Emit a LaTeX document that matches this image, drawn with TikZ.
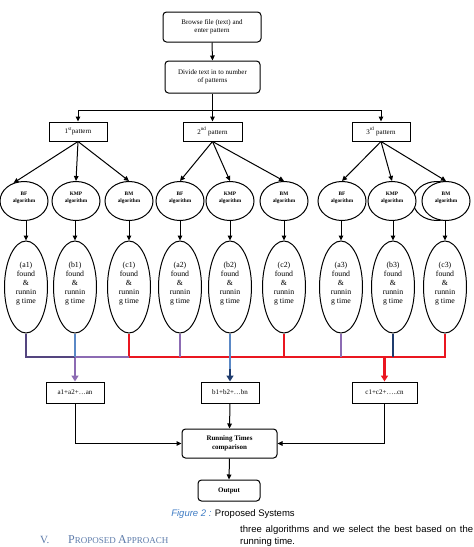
\documentclass[tikz,border=0pt]{standalone}
\usepackage{fontspec}
\setmainfont{Liberation Serif}
\newfontfamily\capfont{Liberation Sans}
\usetikzlibrary{arrows.meta,shapes.geometric}
\definecolor{dpurple}{HTML}{54457F}
\definecolor{lpurple}{HTML}{8C6BB3}
\definecolor{lblue}{HTML}{5A88C6}
\definecolor{dblue}{HTML}{1F3C6E}
\definecolor{bred}{HTML}{EA1620}
\definecolor{figblue}{HTML}{3F7CC4}
\definecolor{headblue}{HTML}{5D7BAA}
\begin{document}
\begin{tikzpicture}[x=1pt,y=-1pt,
  rbox/.style={draw,rounded corners=3.5pt,line width=1pt,align=center,inner sep=1pt,font=\fontsize{7}{8.5}\selectfont},
  sbox/.style={draw,line width=1pt,align=center,inner sep=1pt,font=\fontsize{7}{8.5}\selectfont},
  algo/.style={draw,ellipse,line width=1pt,fill=white,minimum width=48pt,minimum height=39pt,inner sep=0pt,align=center,font=\fontsize{5.3}{7}\selectfont\bfseries},
  res/.style={draw,ellipse,line width=1pt,minimum width=43pt,minimum height=92pt,inner sep=0pt,align=center,font=\fontsize{7.8}{9}\selectfont},
  arr/.style={line width=1pt,-{Triangle[length=5pt,width=4.6pt]}},
  bus/.style={line width=2.6pt},
  barr/.style={line width=2.6pt,-{Triangle[length=6pt,width=7pt]}}]
\useasboundingbox (0,0) rectangle (474,547);
% top boxes
\node[rbox,minimum width=98pt,minimum height=30pt] (browse) at (212,27) {Browse file (text) and\\enter pattern};
\node[rbox,minimum width=95pt,minimum height=32pt] (divide) at (212.5,77) {Divide text in to number\\of patterns};
\node[sbox,minimum width=58pt,minimum height=19pt] (p1) at (78,131.5) {1\textsuperscript{st}pattern};
\node[sbox,minimum width=59pt,minimum height=19pt] (p2) at (212.5,131.5) {2\textsuperscript{nd} pattern};
\node[sbox,minimum width=58pt,minimum height=19pt] (p3) at (381,131.5) {3\textsuperscript{rd} pattern};
\coordinate (split) at (0,110);
\draw[arr] (browse.south) -- (divide.north);
\draw[line width=1pt] (divide.south) -- (divide.south |- split);
\draw[line width=1pt] (p1.north |- split) -- (p3.north |- split);
\draw[arr] (p1.north |- split) -- (p1.north);
\draw[arr] (p2.north |- split) -- (p2.north);
\draw[arr] (p3.north |- split) -- (p3.north);
% algorithm ellipses
\node[algo] (bmx) at (437,201) {};
\node[algo] (bf1) at (24,201) {BF\\algorithm\\[1pt]\mbox{}};
\node[algo] (kmp1) at (76,201) {KMP\\algorithm\\[1pt]\mbox{}};
\node[algo] (bm1) at (129,201) {BM\\algorithm\\[1pt]\mbox{}};
\node[algo] (bf2) at (180,201) {BF\\algorithm\\[1pt]\mbox{}};
\node[algo] (kmp2) at (230,201) {KMP\\algorithm\\[1pt]\mbox{}};
\node[algo] (bm2) at (284,201) {BM\\algorithm\\[1pt]\mbox{}};
\node[algo] (bf3) at (342,201) {BF\\algorithm\\[1pt]\mbox{}};
\node[algo] (kmp3) at (392,201) {KMP\\algorithm\\[1pt]\mbox{}};
\node[algo] (bm3) at (446,201) {BM\\algorithm\\[1pt]\mbox{}};
\draw[arr] (p1.south) -- (bf1.120);
\draw[arr] (p1.south) -- (kmp1.north);
\draw[arr] (p1.south) -- (bm1.north);
\draw[arr] (p2.south) -- (bf2.north);
\draw[arr] (p2.south) -- (kmp2.north);
\draw[arr] (p2.south) -- (bm2.north);
\draw[arr] (p3.south) -- (bf3.north);
\draw[arr] (p3.south) -- (kmp3.north);
\draw[arr] (p3.south) -- (bm3.north);
% result ellipses
\node[res] (a1) at (26,287) {(a1)\\found\\\&\\runnin\\g time\\\mbox{}};
\node[res] (b1) at (75,287) {(b1)\\found\\\&\\runnin\\g time\\\mbox{}};
\node[res] (c1) at (129,287) {(c1)\\found\\\&\\runnin\\g time\\\mbox{}};
\node[res] (a2) at (180,287) {(a2)\\found\\\&\\runnin\\g time\\\mbox{}};
\node[res] (b2) at (230,287) {(b2)\\found\\\&\\runnin\\g time\\\mbox{}};
\node[res] (c2) at (284,287) {(c2)\\found\\\&\\runnin\\g time\\\mbox{}};
\node[res] (a3) at (341,287) {(a3)\\found\\\&\\runnin\\g time\\\mbox{}};
\node[res] (b3) at (393,287) {(b3)\\found\\\&\\runnin\\g time\\\mbox{}};
\node[res] (c3) at (445,287) {(c3)\\found\\\&\\runnin\\g time\\\mbox{}};
\foreach \u/\v in {bf1/a1,kmp1/b1,bm1/c1,bf2/a2,kmp2/b2,bm2/c2,bf3/a3,kmp3/b3,bm3/c3}
  \draw[arr] (\u.south -| \v.south) -- (\v.north);
% sum boxes
\node[sbox,minimum width=58pt,minimum height=21pt] (sa) at (75,392.5) {a1+a2+…an};
\node[sbox,minimum width=58pt,minimum height=21pt] (sb) at (230,392.5) {b1+b2+…bn};
\node[sbox,minimum width=65pt,minimum height=21pt] (sc) at (384.5,392.5) {c1+c2+…..cn};
% bus
\coordinate (busL) at (0,357);
\coordinate (mid) at (0,369);
\draw[bus,bred,line join=miter] (c1.south) -- (c1.south |- busL) -- (c3.south |- busL) -- (c3.south);
\draw[bus,bred] (c2.south) -- (c2.south |- busL);
\draw[bus,lpurple] (b1.south |- busL) -- (c1.south |- busL);
\draw[bus,lpurple] (a2.south) -- (a2.south |- busL);
\draw[bus,lpurple] (a3.south) -- (a3.south |- busL);
\draw[barr,lpurple] (sa.north |- busL) -- (sa.north);
\draw[bus,dpurple,line join=miter] (a1.south) |- (b1.south |- busL);
\draw[bus,lblue] (b1.south) -- (b1.south |- busL);
\draw[bus,lblue] (b2.south) -- (b2.south |- mid);
\draw[bus,dblue] (b3.south) -- (b3.south |- busL);
\draw[barr,dblue] (sb.north |- mid) -- (sb.north);
\draw[barr,bred] (sc.north |- busL) -- (sc.north);
% bottom
\node[rbox,minimum width=95pt,minimum height=29pt,font=\fontsize{7}{8.5}\selectfont\bfseries] (run) at (229.5,443.5) {Running Times\\comparison};
\node[rbox,minimum width=62pt,minimum height=21pt,font=\fontsize{7}{8.5}\selectfont\bfseries] (out) at (229,490.5) {Output};
\draw[arr] (sa.south) |- (run.west);
\draw[arr] (sc.south) |- (run.east);
\draw[arr] (sb.south) -- (run.north);
\draw[arr] (run.south) -- (out.north);
% caption and surrounding text
\node[font=\capfont\fontsize{9.5}{11}\selectfont,inner sep=0pt] (cap) at (233,514) {\textcolor{figblue}{\itshape Figure 2 :} Proposed Systems};
\node[anchor=base west,inner sep=0pt,text=headblue,font=\fontsize{11}{12}\selectfont] (secnum) at (40,543) {V.};
\node[anchor=base west,inner sep=0pt,text=headblue] (sechead) at (68,543) {\fontsize{12}{13}\selectfont P\fontsize{9}{10}\selectfont ROPOSED \fontsize{12}{13}\selectfont A\fontsize{9}{10}\selectfont PPROACH};
\node[anchor=base west,inner sep=0pt,font=\capfont\fontsize{9.5}{11}\selectfont] (body1) at (240,532) {\makebox[233pt][s]{three algorithms and we select the best based on the}};
\node[anchor=base west,inner sep=0pt,font=\capfont\fontsize{9.5}{11}\selectfont] (body2) at (240,544.5) {running time.};
\end{tikzpicture}
\end{document}
